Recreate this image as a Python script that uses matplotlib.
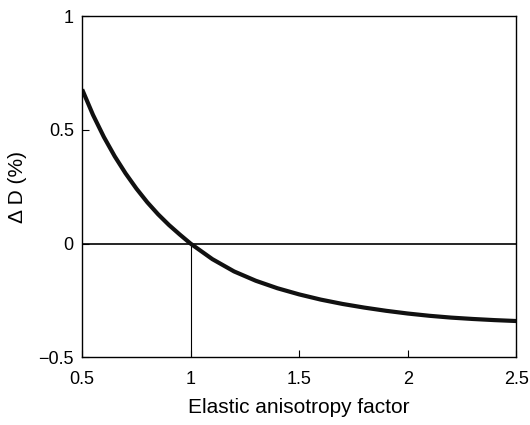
import matplotlib
matplotlib.use("Agg")
import matplotlib.pyplot as plt

x_vals = [0.5, 0.55, 0.6, 0.65, 0.7, 0.75, 0.8, 0.85, 0.9, 0.95, 1.0,
          1.1, 1.2, 1.3, 1.4, 1.5, 1.6, 1.7, 1.8, 1.9, 2.0,
          2.1, 2.2, 2.3, 2.4, 2.5]
dD_vals = [0.678, 0.566, 0.469, 0.384, 0.309, 0.242, 0.182, 0.129, 0.082, 0.040, 0.0,
           -0.068, -0.122, -0.163, -0.196, -0.223, -0.246, -0.265, -0.281, -0.295, -0.307,
           -0.317, -0.325, -0.331, -0.336, -0.340]
x_ticks = [0.5, 1, 1.5, 2, 2.5]
x_tick_labels = ["0.5", "1", "1.5", "2", "2.5"]
y_ticks = [-0.5, 0, 0.5, 1]
y_tick_labels = ["\u22120.5", "0", "0.5", "1"]

plt.rcParams['font.family'] = ['Liberation Sans', 'DejaVu Sans']

fig = plt.figure(figsize=(5.3, 4.25), dpi=100)
ax = fig.add_axes([0.155, 0.159, 0.819, 0.803])

ax.axhline(0, color='black', lw=1.2, zorder=1)
ax.plot([1, 1], [-0.5, 0], color='black', lw=0.8, zorder=1)
ax.plot(x_vals, dD_vals, color='#111111', lw=3.0, solid_capstyle='butt',
        solid_joinstyle='round', zorder=2)

ax.set_xlim(0.5, 2.5)
ax.set_ylim(-0.5, 1)
ax.set_xticks(x_ticks)
ax.set_xticklabels(x_tick_labels)
ax.set_yticks(y_ticks)
ax.set_yticklabels(y_tick_labels)
ax.tick_params(direction='in', length=5, width=0.8, labelsize=13,
               top=False, right=False)
ax.tick_params(axis='x', pad=10)
ax.tick_params(axis='y', pad=6)
for s in ax.spines.values():
    s.set_linewidth(1.0)

ax.set_xlabel("Elastic anisotropy factor", fontsize=15, labelpad=7)
ax.set_ylabel("\u0394 D (%)", fontsize=15, labelpad=8)

fig.savefig("out.png", dpi=100)
